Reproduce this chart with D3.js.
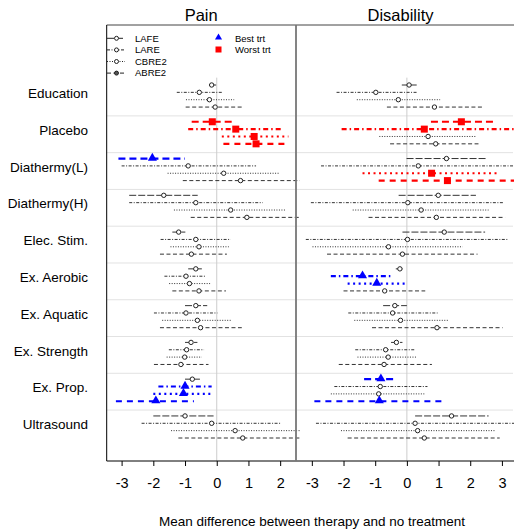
<html>
  <head>
    <meta charset="utf-8">
    <style>
      body { margin: 0; background: white; }
      text { font-family: Arial, "Liberation Sans", Helvetica, sans-serif; fill: #000; }
    </style>
  </head>
  <body>
    <script src="https://d3js.org/d3.v7.min.js"></script>
    <script>
    var categories = ["Education", "Placebo", "Diathermy(L)", "Diathermy(H)", "Elec. Stim.",
                      "Ex. Aerobic", "Ex. Aquatic", "Ex. Strength", "Ex. Prop.", "Ultrasound"];
    var methods = ["LAFE", "LARE", "CBRE2", "ABRE2"];
    var ticks = [-3, -2, -1, 0, 1, 2, 3];

    // [estimate, lower, upper] per category
    var painLAFE  = [[-0.16,-0.24,0.02],[-0.14,-0.79,0.53],[-2.03,-3.1,-1.0],[-1.67,-2.76,-0.6],[-1.2,-1.4,-0.99],
                     [-0.66,-0.9,-0.47],[-0.66,-1.0,-0.3],[-0.81,-1.0,-0.61],[-0.77,-1.0,-0.53],[-1.0,-2.0,-0.1]];
    var painLARE  = [[-0.55,-1.26,0.16],[0.6,-0.9,2.05],[-0.9,-3.0,1.24],[-0.66,-2.76,1.45],[-0.66,-1.77,0.44],
                     [-0.97,-1.65,-0.37],[-0.97,-1.98,0.02],[-0.95,-1.51,-0.4],[-1.0,-1.84,-0.16],[-0.16,-2.37,2.0]];
    var painCBRE2 = [[-0.23,-0.97,0.55],[1.18,0.16,2.26],[0.22,-1.55,1.98],[0.44,-1.35,2.16],[-0.56,-1.46,0.38],
                     [-0.86,-1.5,-0.21],[-0.61,-1.72,0.47],[-1.01,-1.58,-0.47],[-1.05,-2.0,-0.16],[0.58,-1.44,2.7]];
    var painABRE2 = [[-0.05,-0.98,0.86],[1.24,0.21,2.26],[0.75,-1.07,2.7],[0.95,-0.82,2.8],[-0.8,-1.79,0.32],
                     [-0.56,-1.4,0.29],[-0.51,-1.79,0.79],[-1.13,-1.98,-0.26],[-1.92,-3.18,-0.72],[0.82,-1.21,2.9]];

    var disLAFE  = [[0.07,-0.16,0.31],[1.72,0.76,2.78],[1.25,-0.01,2.54],[0.99,-0.26,2.18],[1.18,-0.14,2.47],
                    [-0.22,-0.35,-0.14],[-0.38,-0.75,0.0],[-0.33,-0.5,-0.14],[-0.82,-1.35,-0.37],[1.41,0.26,2.58]];
    var disLARE  = [[-0.98,-2.22,0.31],[0.55,-2.06,3.5],[0.36,-2.71,3.5],[0.03,-3.03,3.07],[0.02,-3.19,3.2],
                    [-1.4,-2.4,-0.45],[-0.45,-1.85,0.97],[-0.67,-1.63,0.26],[-0.84,-2.29,0.65],[0.26,-2.87,3.5]];
    var disCBRE2 = [[-0.27,-1.58,1.05],[0.67,-0.87,2.18],[0.78,-1.4,2.91],[0.45,-1.71,2.58],[-0.58,-2.98,1.76],
                    [-0.95,-1.87,0.0],[-0.2,-1.66,1.3],[-0.59,-1.56,0.31],[-0.89,-2.4,0.55],[0.34,-2.08,2.79]];
    var disABRE2 = [[0.87,-0.63,2.42],[0.91,-0.53,2.26],[1.28,-0.89,3.5],[0.93,-1.21,3.1],[-0.14,-2.52,2.23],
                    [-0.7,-2.0,0.58],[0.95,-1.1,3.02],[-0.72,-2.15,0.79],[-0.87,-2.92,1.18],[0.55,-1.87,2.93]];

    // highlighted estimates: [category, method]
    var painBest  = [["Diathermy(L)","LAFE"],["Ex. Prop.","LARE"],["Ex. Prop.","CBRE2"],["Ex. Prop.","ABRE2"]];
    var painWorst = [["Placebo","LAFE"],["Placebo","LARE"],["Placebo","CBRE2"],["Placebo","ABRE2"]];
    var disBest   = [["Ex. Aerobic","LARE"],["Ex. Aerobic","CBRE2"],["Ex. Prop.","LAFE"],["Ex. Prop.","ABRE2"]];
    var disWorst  = [["Placebo","LAFE"],["Placebo","LARE"],["Diathermy(L)","CBRE2"],["Diathermy(L)","ABRE2"]];

    var width = 514, height = 529, plotTop = 25, plotBottom = 461;

    var svg = d3.select("body").append("svg")
        .attr("width", width)
        .attr("height", height);

    var y = d3.scaleLinear().domain([0, 48]).range([85, 438]);

    var dashNormal = {LAFE: "7,2", LARE: "3,1.5,1,1.5", CBRE2: "1,1.5", ABRE2: "4,2.5"};
    var dashHi     = {LAFE: "7,4", LARE: "5,3,1.5,3", CBRE2: "2,3.5", ABRE2: "6,5"};

    var panels = [
      {title: "Pain", x: d3.scaleLinear().domain([-3.47, 2.49]).range([106.7, 295.7]), clipRight: 300,
       series: {LAFE: painLAFE, LARE: painLARE, CBRE2: painCBRE2, ABRE2: painABRE2},
       best: painBest, worst: painWorst, ticks: ticks.slice(0, 6)},
      {title: "Disability", x: d3.scaleLinear().domain([-3.5, 3.35]).range([296, 513]), clipRight: 514,
       series: {LAFE: disLAFE, LARE: disLARE, CBRE2: disCBRE2, ABRE2: disABRE2},
       best: disBest, worst: disWorst, ticks: ticks}
    ];

    function isIn(list, c, m) {
      return list.some(function(p){ return p[0] === c && p[1] === m; });
    }

    panels.forEach(function(p, pi) {
      var r = p.x.range();
      var g = svg.append("g");

      svg.append("clipPath").attr("id", "clip" + pi)
        .append("rect")
          .attr("x", r[0]).attr("y", plotTop)
          .attr("width", p.clipRight - r[0]).attr("height", plotBottom - plotTop);

      // group separators
      g.selectAll("line.sep")
        .data(categories.slice(0, -1))
        .enter().append("line")
          .attr("x1", r[0]).attr("x2", r[1])
          .attr("y1", function(d, i){ return y(i * 5 + 4.2); })
          .attr("y2", function(d, i){ return y(i * 5 + 4.2); })
          .attr("stroke", "#e2e2e2").attr("stroke-width", 1);

      // zero line
      g.append("line")
          .attr("x1", p.x(0)).attr("x2", p.x(0))
          .attr("y1", y(-1)).attr("y2", plotBottom)
          .attr("stroke", "#cccccc").attr("stroke-width", 1);

      var rows = [];
      categories.forEach(function(c, ci) {
        methods.forEach(function(m, mi) {
          var v = p.series[m][ci];
          rows.push({cat: c, method: m, row: ci * 5 + mi, est: v[0], lo: v[1], hi: v[2],
                     best: isIn(p.best, c, m), worst: isIn(p.worst, c, m)});
        });
      });

      var mark = g.append("g").attr("clip-path", "url(#clip" + pi + ")");

      mark.selectAll("line.ci")
        .data(rows)
        .enter().append("line")
          .attr("x1", function(d){ return p.x(d.lo); })
          .attr("x2", function(d){ return p.x(d.hi); })
          .attr("y1", function(d){ return y(d.row); })
          .attr("y2", function(d){ return y(d.row); })
          .attr("stroke", function(d){ return d.best ? "#0000ff" : d.worst ? "#ff0000" : "#333"; })
          .attr("stroke-width", function(d){ return (d.best || d.worst) ? 2.2 : 1; })
          .attr("stroke-dasharray", function(d){ return (d.best || d.worst) ? dashHi[d.method] : dashNormal[d.method]; });

      mark.selectAll("circle")
        .data(rows.filter(function(d){ return !d.best && !d.worst; }))
        .enter().append("circle")
          .attr("cx", function(d){ return p.x(d.est); })
          .attr("cy", function(d){ return y(d.row); })
          .attr("r", 2.2)
          .attr("fill", "white")
          .attr("stroke", "#222")
          .attr("stroke-width", 1);

      mark.selectAll("rect.worst")
        .data(rows.filter(function(d){ return d.worst; }))
        .enter().append("rect")
          .attr("x", function(d){ return p.x(d.est) - 3.5; })
          .attr("y", function(d){ return y(d.row) - 3.5; })
          .attr("width", 7).attr("height", 7)
          .attr("fill", "#ff0000");

      mark.selectAll("path.best")
        .data(rows.filter(function(d){ return d.best; }))
        .enter().append("path")
          .attr("d", d3.symbol().type(d3.symbolTriangle).size(36))
          .attr("transform", function(d){ return "translate(" + p.x(d.est) + "," + (y(d.row) - 0.5) + ")"; })
          .attr("fill", "#0000ff");

      // x axis
      var axis = svg.append("g")
          .attr("transform", "translate(0," + plotBottom + ")")
          .call(d3.axisBottom(p.x).tickValues(p.ticks).tickSize(5).tickPadding(12)
                .tickFormat(function(d){ return String(d); }));
      axis.select(".domain").remove();
      axis.selectAll("text").attr("font-size", "14.5px").attr("fill", "#000")
          .style("font-family", "Arial, 'Liberation Sans', sans-serif");
      axis.selectAll("line").attr("stroke", "#000");

      svg.append("text")
          .attr("x", (r[0] + r[1]) / 2 + (pi === 1 ? -4 : 0))
          .attr("y", 21)
          .attr("text-anchor", "middle")
          .attr("font-size", "16.5px")
          .text(p.title);
    });

    // frame
    svg.append("line").attr("x1", 106.7).attr("x2", 514).attr("y1", plotTop).attr("y2", plotTop).attr("stroke", "#444");
    svg.append("line").attr("x1", 106.7).attr("x2", 514).attr("y1", plotBottom).attr("y2", plotBottom).attr("stroke", "#000");
    svg.append("line").attr("x1", 106.7).attr("x2", 106.7).attr("y1", plotTop).attr("y2", plotBottom).attr("stroke", "#000");
    svg.append("line").attr("x1", 296).attr("x2", 296).attr("y1", plotTop).attr("y2", plotBottom)
        .attr("stroke", "#777").attr("stroke-width", 1.8);

    // category labels
    svg.selectAll("text.cat")
      .data(categories)
      .enter().append("text")
        .attr("x", 88)
        .attr("y", function(d, i){ return y(i * 5 + 1.15); })
        .attr("dy", "0.35em")
        .attr("text-anchor", "end")
        .attr("font-size", "13.5px")
        .text(function(d){ return d; });

    // legend
    var lg = svg.append("g");
    methods.forEach(function(m, i) {
      var ly = 38.3 + i * 11.6;
      lg.append("line").attr("x1", 107).attr("x2", 125).attr("y1", ly).attr("y2", ly)
        .attr("stroke", "#222").attr("stroke-dasharray", dashNormal[m]);
      lg.append("circle").attr("cx", 116.5).attr("cy", ly).attr("r", 2)
        .attr("fill", i === 3 ? "#555" : "white").attr("stroke", "#222");
      lg.append("text").attr("x", 135).attr("y", ly).attr("dy", "0.35em")
        .attr("font-size", "9.5px").text(m);
    });
    lg.append("path").attr("d", d3.symbol().type(d3.symbolTriangle).size(22))
      .attr("transform", "translate(218.5,37.5)").attr("fill", "#0000ff");
    lg.append("text").attr("x", 235).attr("y", 38.3).attr("dy", "0.35em").attr("font-size", "9.5px").text("Best trt");
    lg.append("rect").attr("x", 215.5).attr("y", 46.5).attr("width", 6).attr("height", 6).attr("fill", "#ff0000");
    lg.append("text").attr("x", 235).attr("y", 49.9).attr("dy", "0.35em").attr("font-size", "9.5px").text("Worst trt");

    svg.append("text")
        .attr("x", 312)
        .attr("y", 526)
        .attr("text-anchor", "middle")
        .attr("font-size", "13.5px")
        .text("Mean difference between therapy and no treatment");
    </script>
  </body>
</html>
